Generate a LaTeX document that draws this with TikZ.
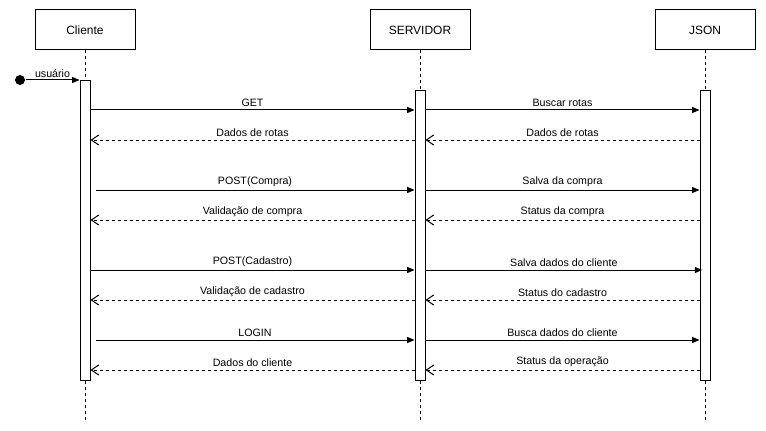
\documentclass[tikz,border=0pt]{standalone}
\usepackage{fontspec}
\setmainfont{Liberation Sans}
\usetikzlibrary{arrows.meta}
\begin{document}
\begin{tikzpicture}[x=0.75pt,y=-0.75pt,line width=0.75pt,
  actor/.style={draw,fill=white,minimum width=75pt,minimum height=30pt,inner sep=0pt,font=\fontsize{9}{11}\selectfont},
  lifeline/.style={dash pattern=on 2.25pt off 2.25pt},
  act/.style={draw,fill=white,minimum width=7.5pt,inner sep=0pt,anchor=north},
  msg/.style={-{Triangle[length=5.5pt,width=4.5pt]}},
  ret/.style={dash pattern=on 2.25pt off 2.25pt,-{Straight Barb[length=5.5pt,width=7.5pt]}},
  lbl/.style={midway,above,inner sep=0pt,yshift=2.2pt,font=\fontsize{8}{10}\selectfont}]
\useasboundingbox (0,0) rectangle (766,431);
% actors
\node[actor] (cli) at (85,30) {Cliente};
\node[actor] (srv) at (420,30) {SERVIDOR};
\node[actor] (json) at (705,30) {JSON};
% lifeline ends
\coordinate (cliend) at (85,420);
\coordinate (srvend) at (420,420);
\coordinate (jsonend) at (705,420);
\draw[lifeline] (cli.south) -- (cliend);
\draw[lifeline] (srv.south) -- (srvend);
\draw[lifeline] (json.south) -- (jsonend);
% activations
\node[act,minimum height=225pt] (a1) at (85,80) {};
\node[act,minimum height=217.5pt] (a2) at (420,90) {};
\node[act,minimum height=217.5pt] (a3) at (705,90) {};
% start
\node[circle,fill=black,inner sep=0pt,minimum size=7.5pt] (start) at (20,80) {};
\draw[msg] (start) -- (a1.north west) node[lbl,yshift=-0.5pt]{usuário};
% message rows
\coordinate (m1) at (0,110);
\coordinate (m2) at (0,140);
\coordinate (m3) at (0,190);
\coordinate (m4) at (0,220);
\coordinate (m5) at (0,270);
\coordinate (m6) at (0,300);
\coordinate (m7) at (0,340);
\coordinate (m8) at (0,370);
% GET
\draw[msg] (a1.east |- m1) -- (a2.west |- m1) node[lbl]{GET};
\draw[msg] (a2.east |- m1) -- (a3.west |- m1) node[lbl]{Buscar rotas};
\draw[ret] (a3.west |- m2) -- (a2.east |- m2) node[lbl]{Dados de rotas};
\draw[ret] (a2.west |- m2) -- (a1.east |- m2) node[lbl]{Dados de rotas};
% POST compra
\draw[msg] ([xshift=3.75pt]a1.east |- m3) -- (a2.west |- m3) node[lbl]{POST(Compra)};
\draw[msg] (a2.east |- m3) -- (a3.west |- m3) node[lbl]{Salva da compra};
\draw[ret] (a3.west |- m4) -- (a2.east |- m4) node[lbl]{Status da compra};
\draw[ret] (a2.west |- m4) -- (a1.east |- m4) node[lbl]{Validação de compra};
% POST cadastro
\draw[msg] (a1.east |- m5) -- (a2.west |- m5) node[lbl]{POST(Cadastro)};
\draw[msg] (a2.east |- m5) -- ([xshift=2pt]a3.west |- m5) node[lbl]{Salva dados do cliente};
\draw[ret] (a3.west |- m6) -- (a2.east |- m6) node[lbl]{Status do cadastro};
\draw[ret] (a2.west |- m6) -- (a1.east |- m6) node[lbl]{Validação de cadastro};
% LOGIN
\draw[msg] ([xshift=3.75pt]a1.east |- m7) -- (a2.west |- m7) node[lbl]{LOGIN};
\draw[msg] (a2.east |- m7) -- (a3.west |- m7) node[lbl]{Busca dados do cliente};
\draw[ret] (a3.west |- m8) -- (a2.east |- m8) node[lbl]{Status da operação};
\draw[ret] (a2.west |- m8) -- (a1.east |- m8) node[lbl]{Dados do cliente};
\end{tikzpicture}
\end{document}
